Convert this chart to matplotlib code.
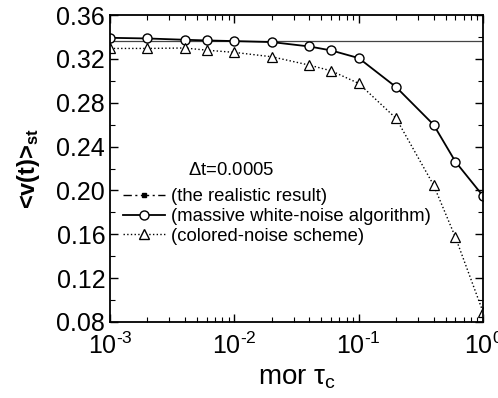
import math
import matplotlib
matplotlib.use("Agg")
import matplotlib.pyplot as plt
from matplotlib.lines import Line2D
from matplotlib.ticker import LogLocator, MultipleLocator, NullFormatter

plt.rcParams['font.family'] = ['Liberation Sans', 'DejaVu Sans']
plt.rcParams['mathtext.fontset'] = 'custom'
plt.rcParams['mathtext.rm'] = 'Liberation Sans'
plt.rcParams['mathtext.it'] = 'Liberation Sans:italic'
plt.rcParams['mathtext.bf'] = 'Liberation Sans:bold'

# data
tau = [0.001, 0.002, 0.004, 0.006, 0.01, 0.02, 0.04, 0.06, 0.1, 0.2, 0.4, 0.6, 1.0]
v_white = [0.3393, 0.3387, 0.3375, 0.3369, 0.3363, 0.3354, 0.3314, 0.3278, 0.3208,
           0.2943, 0.2600, 0.2262, 0.1950]
v_colored = [0.3296, 0.3296, 0.3300, 0.3280, 0.3260, 0.3220, 0.3144, 0.3092, 0.2977,
             0.2657, 0.2049, 0.1572, 0.0890]
v_real = 0.3366

fig = plt.figure(figsize=(4.98, 3.98), dpi=100)
ax = fig.add_axes([0.221, 0.191, 0.749, 0.771])

ax.axhline(v_real, color='#444444', lw=0.9)
ax.plot(tau, v_white, '-', color='black', lw=1.3, marker='o', ms=6.5,
        mfc='white', mec='black', mew=1.0)
ax.plot(tau, v_colored, ':', color='black', lw=1.0, marker='^', ms=6.5,
        mfc='white', mec='black', mew=0.9)

ax.set_xscale('log')
ax.set_xlim(1e-3, 1e0)
ax.set_ylim(0.08, 0.36)
ax.yaxis.set_major_locator(MultipleLocator(0.04))
ax.yaxis.set_minor_locator(MultipleLocator(0.02))
ax.xaxis.set_major_locator(LogLocator(base=10, numticks=10))
ax.xaxis.set_minor_locator(LogLocator(base=10, subs=range(2, 10), numticks=20))
ax.xaxis.set_minor_formatter(NullFormatter())
ax.xaxis.set_major_formatter(plt.FuncFormatter(
    lambda v, p: r'10$^{\text{%d}}$' % round(math.log10(v))))
ax.yaxis.set_major_formatter(plt.FuncFormatter(lambda v, p: '%.2f' % v))

ax.tick_params(which='both', direction='in', top=True, right=True, labelsize=18)
ax.tick_params(which='major', length=6, width=1.0)
ax.tick_params(which='minor', length=3.5, width=0.8)
ax.tick_params(axis='x', pad=8)
for s in ax.spines.values():
    s.set_linewidth(1.3)

ax.set_xlabel(r'mor $\mathrm{\tau}_\mathrm{c}$', fontsize=20, labelpad=4)
ax.set_ylabel(r'<v(t)>$_{\mathbf{st}}$', fontsize=17, fontweight='bold', labelpad=10)

handles = [
    Line2D([0, 0.5, 1], [0, 0, 0], color='black', lw=1.0,
           linestyle=(0, (6, 2.5, 1.5, 2.5)), marker='s', ms=2.5, markevery=[1]),
    Line2D([], [], color='black', lw=1.3, marker='o', ms=6.5, mfc='white', mec='black'),
    Line2D([], [], color='black', lw=1.0, linestyle=':', marker='^', ms=6.5,
           mfc='white', mec='black'),
]
labels = ['(the realistic result)', '(massive white-noise algorithm)',
          '(colored-noise scheme)']
ax.legend(handles, labels, loc='upper left', bbox_to_anchor=(0.0, 0.478),
          frameon=False, fontsize=13.3, handlelength=2.3, handletextpad=0.3,
          labelspacing=0.15, borderaxespad=0.3)
ax.text(0.209, 0.465, r'$\Delta$t=0.0005', transform=ax.transAxes, fontsize=13.3,
        ha='left', va='bottom')

fig.savefig('out.png', dpi=100)
